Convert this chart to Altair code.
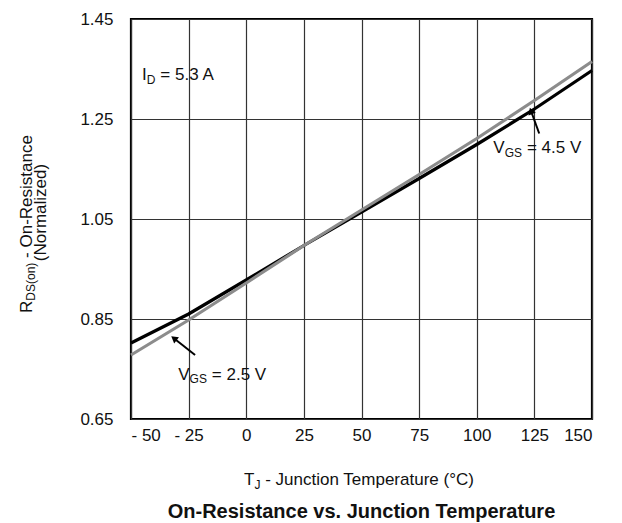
import altair as alt
import pandas as pd

# ---- data ----
temps = [-50, -25, 0, 25, 50, 75, 100, 125, 150]
rds_vgs45 = [0.802, 0.860, 0.928, 0.997, 1.064, 1.131, 1.199, 1.270, 1.347]
rds_vgs25 = [0.778, 0.848, 0.922, 0.997, 1.068, 1.139, 1.211, 1.287, 1.365]
x_ticks = [-50, -25, 0, 25, 50, 75, 100, 125, 150]
y_ticks = [0.65, 0.85, 1.05, 1.25, 1.45]

# annotation arrows (tail -> head), data coordinates
arrow45 = {"T": [127.1, 123.7], "R": [1.221, 1.264]}
arrow25 = {"T": [-22.2, -31.0], "R": [0.778, 0.810]}
head45 = {"T": [123.7], "R": [1.264]}
head25 = {"T": [-31.0], "R": [0.810]}

FONT = "Liberation Sans"
xscale = alt.Scale(domain=[-50, 150], nice=False, zero=False)
yscale = alt.Scale(domain=[0.65, 1.45], nice=False, zero=False)

x_axis = alt.Axis(
    values=x_ticks, title=None, grid=True, ticks=False, domain=False,
    labelExpr="datum.value < 0 ? '- ' + abs(datum.value) : datum.label",
    labelFontSize=17, labelPadding=8, labelFont=FONT, labelColor="#111",
    gridColor="#333", gridWidth=1.2)
y_axis = alt.Axis(
    values=y_ticks, title=None, grid=True, ticks=False, domain=False,
    format=".2f", labelFontSize=17, labelPadding=18, labelFont=FONT,
    labelColor="#111", gridColor="#333", gridWidth=1.2)

df45 = pd.DataFrame({"T": temps, "R": rds_vgs45})
df25 = pd.DataFrame({"T": temps, "R": rds_vgs25})


def xy():
    return dict(x=alt.X("T:Q", scale=xscale, axis=x_axis),
                y=alt.Y("R:Q", scale=yscale, axis=y_axis))


line45 = alt.Chart(df45).mark_line(color="black", strokeWidth=3.2).encode(**xy())
line25 = alt.Chart(df25).mark_line(color="#8c8c8c", strokeWidth=3.2).encode(**xy())

arr_a = alt.Chart(pd.DataFrame(arrow45)).mark_line(color="black", strokeWidth=2).encode(**xy())
arr_b = alt.Chart(pd.DataFrame(arrow25)).mark_line(color="black", strokeWidth=2).encode(**xy())
hd_a = alt.Chart(pd.DataFrame(head45)).mark_point(shape="triangle", filled=True, color="black",
                                                   opacity=1, size=60, angle=340).encode(**xy())
hd_b = alt.Chart(pd.DataFrame(head25)).mark_point(shape="triangle", filled=True, color="black",
                                                   opacity=1, size=60, angle=308).encode(**xy())


def dtext(text, t, r, size=17, dx=0, dy=0):
    return alt.Chart(pd.DataFrame({"T": [t], "R": [r], "txt": [text]})).mark_text(
        align="left", baseline="alphabetic", font=FONT, fontSize=size,
        color="#111", dx=dx, dy=dy).encode(text="txt:N", **xy())


def ptext(text, px, py, size=17, angle=0, align="left", bold=False):
    kw = {}
    if angle:
        kw["angle"] = angle
    return alt.Chart(pd.DataFrame({"txt": [text]})).mark_text(
        align=align, baseline="alphabetic", font=FONT, fontSize=size,
        fontWeight="bold" if bold else "normal", color="#111", **kw).encode(
        text="txt:N", x=alt.value(px), y=alt.value(py))


annots = [
    dtext("I", -45.2, 1.328),
    dtext("D", -45.2, 1.328, size=12, dx=4.7, dy=3.5),
    dtext("= 5.3 A", -45.2, 1.328, dx=18.3),
    dtext("V", 107.2, 1.182),
    dtext("GS", 107.2, 1.182, size=12, dx=11.3, dy=3.5),
    dtext("= 4.5 V", 107.2, 1.182, dx=33.6),
    dtext("V", -29.5, 0.729),
    dtext("GS", -29.5, 0.729, size=12, dx=11.3, dy=3.5),
    dtext("= 2.5 V", -29.5, 0.729, dx=33.6),
]

# titles (pixel positions relative to plot area)
titles = [
    ptext("T", 113, 466),
    ptext("J", 123.4, 469.5, size=12),
    ptext("- Junction Temperature (°C)", 134.2, 466),
    ptext("R", -99.5, 294, angle=270),
    ptext("DS(on)", -96, 281.7, size=12, angle=270),
    ptext("- On-Resistance", -99.5, 238.9, angle=270),
    ptext("(Normalized)", -85.5, 193.5, angle=270, align="center"),
    ptext("On-Resistance vs. Junction Temperature", 230.5, 499, size=20,
          align="center", bold=True),
]

chart = alt.layer(line45, line25, arr_a, arr_b, hd_a, hd_b,
                  *annots, *titles).properties(
    width=461, height=400,
    autosize=alt.AutoSizeParams(type="none"),
    padding={"left": 123, "top": 11, "right": 5, "bottom": 104},
).configure_view(stroke="black", strokeWidth=2.2)

chart.save("out.html", embed_options={"renderer": "svg", "actions": False})
